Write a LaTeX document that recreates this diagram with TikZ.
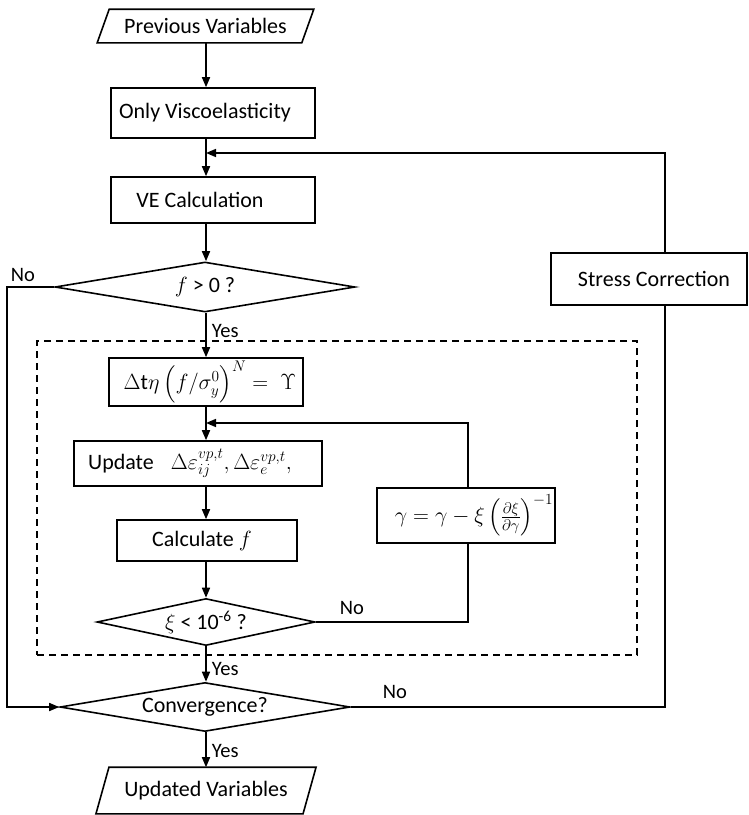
\RequirePackage{fix-cm}
\documentclass[tikz,border=0pt]{standalone}
\usepackage{amsmath}
\usepackage{fontspec}
\setmainfont{Carlito}
\usetikzlibrary{shapes.geometric,arrows.meta}
\begin{document}
\begin{tikzpicture}[x=1pt,y=-1pt,
  line width=1.6pt,
  font=\fontsize{22}{26}\selectfont,
  box/.style={draw,rectangle,inner sep=0pt},
  dia/.style={draw,diamond,inner sep=0pt},
  io/.style={inner sep=0pt},
  lbl/.style={font=\fontsize{20.5}{24}\selectfont,inner sep=0pt},
  arr/.style={-{Triangle[length=10pt,width=8pt]}},
  grpbox/.style={draw,dash pattern=on 7pt off 5pt,line width=1.4pt,inner sep=0pt}
]
\useasboundingbox (0,0) rectangle (749,815);
\coordinate (col) at (206,0);
\coordinate (scx) at (665,0);
\coordinate (gx) at (468,0);

% nodes
\node[io,minimum width=203,minimum height=32] (prev) at (205.5,26) {Previous Variables};
\draw ([xshift=6pt]prev.north west) -- ([xshift=6pt]prev.north east) -- ([xshift=-6pt]prev.south east) -- ([xshift=-6pt]prev.south west) -- cycle;

\node[box,minimum width=204,minimum height=50] (ov) at (213,113) {\hspace*{-16pt}Only Viscoelasticity};
\node[box,minimum width=204,minimum height=46] (ve) at (213,200) {\hspace*{-26pt}VE Calculation};
\node[dia,shape aspect=6,minimum width=300,minimum height=50] (f0) at (205,287) {$f$ > 0 ?};
\node[box,minimum width=196,minimum height=52] (sc) at (649,279) {\hspace*{10pt}Stress Correction};

\node[grpbox,minimum width=600,minimum height=314] (grp) at (337,498) {};

\node[box,minimum width=194,minimum height=48] (dt) at (206,382) {\hspace*{8pt}$\Delta\mathrm{t}\eta\left(f/\sigma_y^0\right)^N =\;\Upsilon$};
\node[box,minimum width=248,minimum height=45] (upd) at (198,463.5) {\hspace*{-16pt}Update\;\; $\Delta\varepsilon_{ij}^{vp,t},\Delta\varepsilon_{e}^{vp,t},$};
\node[box,minimum width=180,minimum height=41] (calc) at (207,540.5) {\hspace*{-10pt}Calculate $f$};
\node[box,minimum width=178,minimum height=55] (gam) at (466,515.5) {\hspace*{16pt}$\gamma=\gamma-\xi\left(\frac{\partial\xi}{\partial\gamma}\right)^{-1}$};
\node[dia,shape aspect=4.6,minimum width=218,minimum height=47] (xi) at (206,622) {$\xi$ < 10\textsuperscript{-6} ?};
\node[dia,shape aspect=5.9,minimum width=290,minimum height=49] (conv) at (205,707) {Convergence?};

\node[io,minimum width=205.5,minimum height=45] (upv) at (206,790.5) {Updated Variables};
\draw ([xshift=6.5pt]upv.north west) -- ([xshift=6.5pt]upv.north east) -- ([xshift=-6.5pt]upv.south east) -- ([xshift=-6.5pt]upv.south west) -- cycle;

% connectors
\coordinate (fb) at (206,153);
\coordinate (lp) at (206,423);
\coordinate (lft) at (7,707);

\draw[arr] (col |- prev.south) -- (col |- ov.north);
\draw[arr] (col |- ov.south) -- (col |- ve.north);
\draw[arr] (scx |- sc.north) |- (fb);
\draw[arr] (col |- ve.south) -- (col |- f0.north);
\draw[arr] (col |- f0.south) -- (col |- dt.north);
\draw[arr] (f0.west) -| (lft) -- (conv.west);
\draw[arr] (col |- dt.south) -- (col |- upd.north);
\draw[arr] (gx |- gam.north) |- (lp);
\draw[arr] (col |- upd.south) -- (col |- calc.north);
\draw[arr] (col |- calc.south) -- (col |- xi.north);
\draw (xi.east) -| (gx |- gam.south);
\draw[arr] (col |- xi.south) -- (col |- conv.north);
\draw (conv.east) -| (scx |- sc.south);
\draw[arr] (col |- conv.south) -- (col |- upv.north);

% labels
\node[lbl] (no1) at (23,275) {No};
\node[lbl,anchor=west] (yes1) at (211,331) {Yes};
\node[lbl] (no2) at (352,608) {No};
\node[lbl,anchor=west] (yes2) at (211,669) {Yes};
\node[lbl] (no3) at (395,692) {No};
\node[lbl,anchor=west] (yes3) at (211,751) {Yes};
\end{tikzpicture}
\end{document}
